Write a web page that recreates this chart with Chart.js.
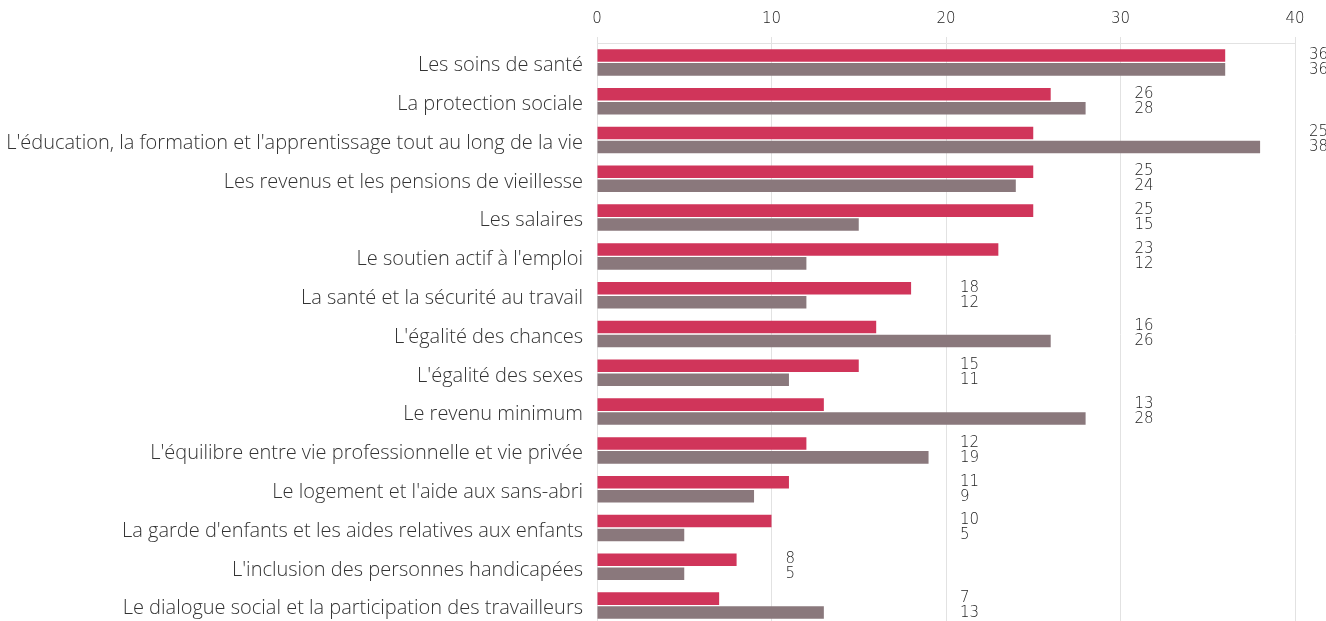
<!DOCTYPE html>
<html>
<head>
<meta charset="utf-8">
<script src="https://cdn.jsdelivr.net/npm/chart.js@4"></script>
<style>
  html, body { margin: 0; padding: 0; background: #fff; overflow: hidden; }
  #chart { display: block; }
</style>
</head>
<body>
<canvas id="chart" width="1326" height="625"></canvas>
<script>
const categories = [
    "Les soins de santé",
    "La protection sociale",
    "L'éducation, la formation et l'apprentissage tout au long de la vie",
    "Les revenus et les pensions de vieillesse",
    "Les salaires",
    "Le soutien actif à l'emploi",
    "La santé et la sécurité au travail",
    "L'égalité des chances",
    "L'égalité des sexes",
    "Le revenu minimum",
    "L'équilibre entre vie professionnelle et vie privée",
    "Le logement et l'aide aux sans-abri",
    "La garde d'enfants et les aides relatives aux enfants",
    "L'inclusion des personnes handicapées",
    "Le dialogue social et la participation des travailleurs",
];
const seriesA = [36, 26, 25, 25, 25, 23, 18, 16, 15, 13, 12, 11, 10, 8, 7];
const seriesB = [36, 28, 38, 24, 15, 12, 12, 26, 11, 28, 19, 9, 5, 5, 13];
const xTicks = [0, 10, 20, 30, 40];

const numFont = { family: "DejaVu Sans", size: 15, weight: 200 };

// two stacked value labels, set just past the next gridline
const valueLabels = {
    id: "valueLabels",
    afterDatasetsDraw(chart) {
        const ctx = chart.ctx;
        const x = chart.scales.x;
        const y = chart.scales.y;
        ctx.save();
        ctx.font = "200 15px 'DejaVu Sans'";
        ctx.fillStyle = "#222";
        ctx.textAlign = "left";
        ctx.textBaseline = "middle";
        categories.forEach(function (c, i) {
            const max = Math.max(seriesA[i], seriesB[i]);
            const px = x.getPixelForValue((Math.floor(max / 10) + 1) * 10) + 14;
            const py = y.getPixelForValue(i);
            ctx.fillText(String(seriesA[i]), px, py - 7.5);
            ctx.fillText(String(seriesB[i]), px, py + 7.5);
        });
        ctx.restore();
    },
};

const options = {
    responsive: false,
    animation: false,
    indexAxis: "y",
    layout: {
        padding: { top: 0, right: 31, bottom: 0, left: 0 },
    },
    plugins: {
        legend: { display: false },
        tooltip: { enabled: false },
    },
    datasets: {
        bar: {
            categoryPercentage: 0.72,
            barPercentage: 0.9,
        },
    },
    scales: {
        x: {
            position: "top",
            min: 0,
            max: 40,
            afterBuildTicks: function (axis) {
                axis.ticks = xTicks.map(function (v) { return { value: v }; });
            },
            afterFit: function (axis) {
                axis.height = 43;
            },
            grid: {
                color: "#e2e2e2",
                tickLength: 6,
                lineWidth: 1,
            },
            border: { display: true, color: "#e2e2e2" },
            ticks: {
                color: "#222",
                padding: 9,
                font: numFont,
            },
        },
        y: {
            afterFit: function (axis) {
                axis.width = 597;
                axis.paddingTop = 0;
                axis.paddingBottom = 0;
            },
            grid: { display: false, drawTicks: false },
            border: { display: false },
            ticks: {
                color: "#333",
                padding: 14,
                labelOffset: 3,
                font: { family: "Open Sans", size: 20, weight: 300 },
            },
        },
    },
};

new Chart(document.getElementById("chart"), {
    type: "bar",
    data: {
        labels: categories,
        datasets: [
            { label: "Série 1", data: seriesA, backgroundColor: "#d0355a" },
            { label: "Série 2", data: seriesB, backgroundColor: "#8a787c" },
        ],
    },
    options: options,
    plugins: [valueLabels],
});
</script>
</body>
</html>
